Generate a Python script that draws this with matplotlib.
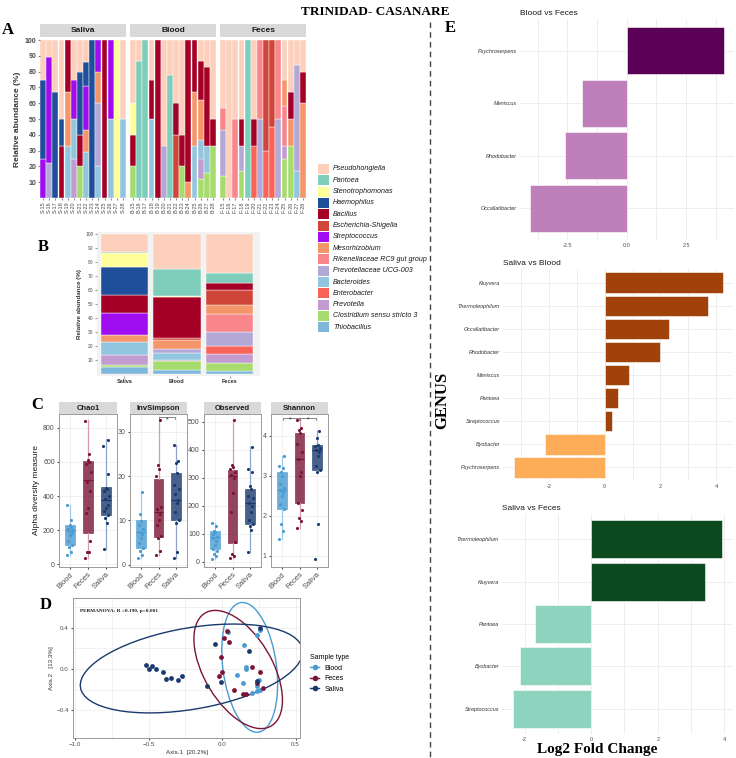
import numpy as np
import matplotlib
matplotlib.use("Agg")
import matplotlib.pyplot as plt
from matplotlib.patches import Ellipse, Rectangle
from matplotlib.lines import Line2D

plt.rcParams['font.family'] = ['Liberation Sans', 'DejaVu Sans']
SERIF = 'Liberation Serif'

W, H = 736, 758

# ---------------- data ----------------
GENERA = ["Pseudohongiella", "Pantoea", "Stenotrophomonas", "Haemophilus", "Bacillus",
          "Escherichia-Shigella", "Streptococcus", "Mesorhizobium", "Rikenellaceae RC9 gut group",
          "Prevotellaceae UCG-003", "Bacteroides", "Enterobacter", "Prevotella",
          "Clostridium sensu stricto 3", "Thiobacillus"]
CODES = ["Pse", "Pan", "Ste", "Hae", "Bac", "Esc", "Str", "Mes", "Rik", "PUC", "Bct", "Ent", "Pre", "Clo", "Thi"]
GENUS_COLORS = ["#FDD0BB", "#7FCDBB", "#FFFF99", "#1F4E9A", "#A50026", "#D0453A", "#A00CF0",
                "#F4956A", "#F8868B", "#B3A9D6", "#92C5DE", "#F8645A", "#C29BD0", "#A6DB6E", "#7FB6DC"]

saliva_ids = ["S-%d" % i for i in range(15, 29)]
blood_ids = ["B-%d" % i for i in range(15, 29)]
feces_ids = ["F-%d" % i for i in range(15, 29)]

saliva_comp = [
    {"Pse": 25, "Hae": 50, "Str": 25},
    {"Pse": 11, "Str": 67, "PUC": 22},
    {"Pse": 33, "Hae": 67},
    {"Pse": 50, "Hae": 17, "Bac": 33},
    {"Bac": 33, "Mes": 34, "Bct": 33},
    {"Pse": 25, "Str": 25, "Pre": 25, "Bct": 25},
    {"Pse": 20, "Hae": 40, "Bac": 20, "Clo": 20},
    {"Pse": 14, "Hae": 15, "Str": 28, "Mes": 14, "Bct": 29},
    {"Hae": 100},
    {"Str": 20, "Mes": 20, "PUC": 40, "Bct": 20},
    {"Bac": 100},
    {"Str": 50, "Bct": 50},
    {"Ste": 100},
    {"Pse": 50, "Bct": 50},
]
blood_comp = [
    {"Pse": 40, "Ste": 20, "Bac": 20, "Clo": 20},
    {"Pse": 13, "Pan": 87},
    {"Pan": 100},
    {"Pse": 25, "Bac": 25, "Bct": 50},
    {"Bac": 100},
    {"Pse": 67, "PUC": 33},
    {"Pse": 22, "Pan": 78},
    {"Pse": 40, "Bac": 20, "Esc": 40},
    {"Pse": 60, "Bac": 20, "Clo": 20},
    {"Bac": 90, "Mes": 10},
    {"Bac": 33, "Mes": 34, "Bct": 33},
    {"Pse": 13, "Bac": 25, "Mes": 25, "Bct": 12, "Pre": 13, "Clo": 12},
    {"Pse": 17, "Bac": 50, "Bct": 17, "Clo": 16},
    {"Pse": 50, "Bac": 17, "Clo": 33},
]
feces_comp = [
    {"Pse": 43, "Rik": 14, "PUC": 29, "Clo": 14},
    {"Pse": 100},
    {"Pse": 50, "Rik": 50},
    {"Pse": 50, "Bac": 17, "PUC": 16, "Clo": 17},
    {"Pan": 100},
    {"Pse": 50, "Bac": 17, "Ent": 33},
    {"Rik": 50, "PUC": 50},
    {"Esc": 70, "Ent": 30},
    {"Esc": 55, "Ent": 45},
    {"Rik": 50, "PUC": 50},
    {"Pse": 25, "Rik": 25, "Mes": 17, "Pre": 8, "Clo": 25},
    {"Pse": 33, "Bac": 17, "Mes": 17, "Clo": 33},
    {"Pse": 16, "PUC": 67, "Bct": 17},
    {"Pse": 20, "Bac": 20, "Mes": 60},
]

# panel B: mean composition per sample type
groups_B = ["Saliva", "Blood", "Feces"]
mean_comp = [
    {"Pse": 13, "Pan": 0.5, "Ste": 10, "Hae": 20, "Bac": 13, "Str": 16, "Mes": 5, "Bct": 9, "Pre": 7, "Clo": 1.5, "Thi": 5},
    {"Pse": 25, "Pan": 19, "Ste": 1, "Bac": 29, "Esc": 2, "Mes": 6, "PUC": 3, "Bct": 5, "Pre": 1, "Clo": 6, "Thi": 3},
    {"Pse": 28, "Pan": 7, "Bac": 5, "Esc": 11, "Mes": 6, "Rik": 13, "PUC": 10, "Ent": 6, "Pre": 6, "Clo": 6, "Thi": 2},
]

# panel C: alpha diversity
types_C = ["Blood", "Feces", "Saliva"]
type_colors = ["#4A9BD1", "#7A1535", "#1A3A6E"]
whisker_colors = ["#9CCAE8", "#D89AAE", "#8FA5C8"]
metrics = ["Chao1", "InvSimpson", "Observed", "Shannon"]
# (q1, median, q3, whisker low, whisker high) per sample type
box_stats = {
    "Chao1": [(113, 200, 229, 53, 350), (181, 492, 603, 35, 846), (292, 378, 455, 90, 735)],
    "InvSimpson": [(3.8, 7.4, 10.0, 1.6, 16.5), (6.3, 12.0, 19.3, 2.2, 32.6), (10.2, 14.7, 20.7, 1.5, 27.0)],
    "Observed": [(46, 89, 112, 10, 140), (69, 307, 328, 14, 507), (136, 210, 260, 37, 412)],
    "Shannon": [(2.18, 2.65, 3.10, 1.42, 3.50), (2.33, 3.42, 4.08, 1.70, 4.40), (3.15, 3.65, 3.78, 3.10, 4.13)],
}
alpha_points = {
    "Chao1": [[55, 75, 100, 115, 140, 170, 185, 195, 200, 210, 220, 230, 260, 345],
              [35, 70, 70, 135, 300, 330, 430, 480, 540, 590, 600, 610, 645, 840],
              [90, 240, 270, 290, 310, 330, 350, 380, 400, 430, 440, 445, 530, 690, 730]],
    "InvSimpson": [[1.6, 2.2, 3.0, 3.8, 5.0, 6.0, 7.0, 7.5, 8.0, 9.0, 9.8, 11.5, 16.5],
                   [2.2, 3.0, 6.0, 6.5, 9.0, 10.0, 11.5, 12.5, 13.0, 20.0, 21.5, 22.5, 32.6],
                   [1.5, 2.8, 9.5, 10.2, 12.0, 14.0, 14.7, 16.0, 17.0, 18.0, 20.7, 23.0, 23.5, 27.0]],
    "Observed": [[10, 20, 30, 40, 46, 60, 75, 85, 90, 100, 108, 112, 130, 140],
                 [14, 20, 30, 70, 180, 245, 300, 310, 320, 330, 340, 345, 507],
                 [37, 115, 130, 136, 150, 180, 200, 210, 230, 235, 260, 270, 320, 330, 412]],
    "Shannon": [[1.42, 1.62, 1.8, 2.18, 2.3, 2.5, 2.6, 2.65, 2.7, 2.8, 3.0, 3.1, 3.2, 3.25, 3.5],
                [1.7, 1.87, 1.95, 2.15, 2.33, 3.0, 3.1, 3.42, 3.6, 3.8, 4.08, 4.15, 4.2, 4.4],
                [0.93, 1.8, 3.1, 3.15, 3.25, 3.5, 3.6, 3.65, 3.7, 3.75, 3.78, 3.95, 4.13]],
}
ylims_C = {"Chao1": (-15, 880), "InvSimpson": (-0.5, 34), "Observed": (-18, 528), "Shannon": (0.72, 4.55)}
yticks_C = {"Chao1": [0, 200, 400, 600, 800], "InvSimpson": [0, 10, 20, 30],
            "Observed": [0, 100, 200, 300, 400, 500], "Shannon": [1, 2, 3, 4]}
signif_C = {"InvSimpson": [(2, 3, 33.3)], "Shannon": [(1, 2, 4.45), (2, 3, 4.45)]}

# panel D: PCoA
pcoa_x = [[0.04, 0.15, 0.24, 0.26, 0.16, 0.16, 0.10, 0.14, 0.20, 0.25, 0.24, 0.24, 0.26],
          [0.03, 0.01, 0.05, -0.01, 0.0, -0.02, 0.08, 0.14, 0.16, 0.20, 0.26, 0.24, 0.28],
          [-0.52, -0.50, -0.48, -0.45, -0.40, -0.38, -0.35, -0.30, -0.27, -0.10, -0.05, -0.01, 0.18, 0.26, 0.24]]
pcoa_y = [[0.36, 0.23, 0.33, 0.38, 0.0, 0.02, -0.06, -0.14, -0.23, -0.11, -0.16, -0.21, -0.20],
          [0.37, 0.30, 0.26, 0.12, -0.03, -0.07, -0.20, -0.24, -0.24, 0.02, -0.03, -0.14, -0.18],
          [0.04, 0.0, 0.03, 0.0, -0.03, -0.10, -0.09, -0.11, -0.07, -0.16, 0.24, -0.13, 0.18, 0.40, -0.12]]
ELL_R = 2.75  # t-based 95% radius

# panel E: log2 fold change
e1_genus = ["Psychroserpens", "Meniscus", "Rhodobacter", "Occallatibacter"]
e1_lfc = [4.10, -1.90, -2.60, -4.08]
e2_genus = ["Kluyvera", "Thermoleophilum", "Occallatibacter", "Rhodobacter", "Meniscus",
            "Pantoea", "Streptococcus", "Byobacter", "Psychroserpens"]
e2_lfc = [4.23, 3.72, 2.31, 1.99, 0.88, 0.49, 0.26, -2.14, -3.26]
e3_genus = ["Thermoleophilum", "Kluyvera", "Pantoea", "Byobacter", "Streptococcus"]
e3_lfc = [3.94, 3.43, -1.70, -2.13, -2.36]

# ---------------- helpers ----------------
fig = plt.figure(figsize=(W / 100, H / 100), dpi=100)


def add_ax(x0, y0, x1, y1):
    return fig.add_axes([x0 / W, 1 - y1 / H, (x1 - x0) / W, (y1 - y0) / H])


def ftext(x, y, s, **kw):
    fig.text(x / W, 1 - y / H, s, **kw)


def clear_spines(ax):
    for s in ax.spines.values():
        s.set_visible(False)


def stack_bars(ax, comps, width):
    for i, d in enumerate(comps):
        bottom = 0
        for code, col in reversed(list(zip(CODES, GENUS_COLORS))):
            v = d.get(code, 0)
            if v:
                ax.bar(i, v, bottom=bottom, width=width, color=col, edgecolor='white', linewidth=0.3)
                bottom += v


def strip(x0, y0, x1, y1, label, size):
    sax = add_ax(x0, y0, x1, y1)
    sax.set_facecolor('#D9D9D9')
    sax.set_xticks([])
    sax.set_yticks([])
    clear_spines(sax)
    sax.text(0.5, 0.5, label, ha='center', va='center', fontsize=size, fontweight='bold', color='#1A1A1A')


# ---------------- panel A ----------------
facets_A = [("Saliva", saliva_ids, saliva_comp, 40, 126),
            ("Blood", blood_ids, blood_comp, 130, 216),
            ("Feces", feces_ids, feces_comp, 220, 306)]
for k, (name, ids, comp, x0, x1) in enumerate(facets_A):
    ax = add_ax(x0, 40, x1, 198)
    stack_bars(ax, comp, 0.94)
    ax.set_xlim(-0.5, len(ids) - 0.5)
    ax.set_ylim(0, 100)
    ax.set_xticks(range(len(ids)))
    ax.set_xticklabels(ids, rotation=90, fontsize=4, color='#4D4D4D')
    ax.tick_params(axis='x', length=1.5, pad=1, color='#888888')
    if k == 0:
        ax.set_yticks(range(10, 101, 10))
        ax.set_yticklabels([str(v) for v in range(10, 101, 10)], fontsize=5, fontweight='bold', color='#4D4D4D')
        ax.tick_params(axis='y', length=1.5, pad=1, color='#888888')
        ax.set_ylabel("Relative abundance (%)", fontsize=6, fontweight='bold', color='#333333', labelpad=3)
    else:
        ax.set_yticks([])
    clear_spines(ax)
    strip(x0, 24, x1, 37, name, 6)

# ---------------- panel B ----------------
axb = add_ax(97, 232, 260, 376)
axb.set_facecolor('#F2F2F2')
stack_bars(axb, mean_comp, 0.9)
axb.set_xlim(-0.52, 2.58)
axb.set_ylim(-1.5, 101.5)
axb.set_xticks(range(3))
axb.set_xticklabels(groups_B, fontsize=4, fontweight='bold', color='#333333')
axb.set_yticks(range(10, 101, 10))
axb.set_yticklabels([str(v) for v in range(10, 101, 10)], fontsize=3.5, color='#4D4D4D')
axb.tick_params(length=1.5, pad=1, color='#999999')
axb.set_ylabel("Relative abundance (%)", fontsize=4.5, fontweight='bold', color='#333333', labelpad=2)
clear_spines(axb)

# ---------------- panel C ----------------
rects_C = [(59, 117), (130, 187), (204, 261), (271, 328)]
jit = [-0.14, 0.06, -0.04, 0.13, -0.10, 0.02, 0.10, -0.07, 0.15, -0.12, 0.04, -0.02, 0.08, -0.15, 0.11]
for m, (x0, x1) in zip(metrics, rects_C):
    ax = add_ax(x0, 414, x1, 567)
    stats = []
    for (q1, med, q3, lo, hi) in box_stats[m]:
        stats.append({'q1': q1, 'med': med, 'q3': q3, 'whislo': lo, 'whishi': hi, 'fliers': []})
    for i in range(3):
        ax.bxp([stats[i]], positions=[i + 1], widths=0.55, patch_artist=True, showcaps=False,
               boxprops=dict(facecolor=type_colors[i], edgecolor=type_colors[i], alpha=0.8, linewidth=0.5),
               whiskerprops=dict(color=whisker_colors[i], linewidth=0.9),
               medianprops=dict(color=type_colors[i], linewidth=0.8), zorder=2)
        vals = alpha_points[m][i]
        ax.scatter([i + 1 + jit[j % len(jit)] for j in range(len(vals))], vals, s=5,
                   color=type_colors[i], zorder=3, linewidths=0)
    for (a, b, yv) in signif_C.get(m, []):
        lo, hi = ylims_C[m]
        d = (hi - lo) * 0.015
        ax.plot([a + 0.05, a + 0.05, b - 0.05, b - 0.05], [yv - d, yv, yv, yv - d], color='#555555', lw=0.5)
        ax.text((a + b) / 2, yv - d, "*", ha='center', va='center', fontsize=5, color='#333333')
    ax.set_xlim(0.4, 3.6)
    ax.set_ylim(*ylims_C[m])
    ax.set_yticks(yticks_C[m])
    ax.set_xticks([1, 2, 3])
    ax.set_xticklabels(types_C, rotation=45, ha='right', rotation_mode='anchor', fontsize=5.5, color='#4D4D4D')
    ax.tick_params(labelsize=5, colors='#4D4D4D', length=1.5, pad=1.5)
    ax.tick_params(axis='x', labelsize=5.5)
    ax.grid(True, color='#EBEBEB', lw=0.5, zorder=0)
    ax.set_axisbelow(True)
    for s in ax.spines.values():
        s.set_color('#9A9A9A')
        s.set_linewidth(0.7)
    strip(x0, 402, x1, 414, m, 5.5)
ftext(36, 490, "Alpha diversity measure", rotation=90, ha='center', va='center', fontsize=6, color='#1A1A1A')

# ---------------- panel D ----------------
axd = add_ax(73, 598, 300, 738)
for i in range(3):
    xs = np.array(pcoa_x[i])
    ys = np.array(pcoa_y[i])
    cov = np.cov(xs, ys)
    vals, vecs = np.linalg.eigh(cov)
    ang = np.degrees(np.arctan2(vecs[1, 1], vecs[0, 1]))
    axd.add_patch(Ellipse((xs.mean(), ys.mean()), 2 * ELL_R * np.sqrt(vals[1]), 2 * ELL_R * np.sqrt(vals[0]),
                          angle=ang, fill=False, edgecolor=type_colors[i], lw=1.0, zorder=2))
    axd.scatter(xs, ys, s=12, color=type_colors[i], zorder=3, linewidths=0)
axd.set_xlim(-1.015, 0.53)
axd.set_ylim(-0.67, 0.69)
axd.set_xticks([-1.0, -0.5, 0.0, 0.5])
axd.set_yticks([-0.4, 0.0, 0.4])
axd.set_xticks([-0.75, -0.25, 0.25], minor=True)
axd.set_yticks([-0.2, 0.2, 0.6], minor=True)
axd.tick_params(which='both', labelsize=4.5, colors='#4D4D4D', length=1.5, pad=1.5)
axd.tick_params(which='minor', length=0)
axd.grid(True, which='both', color='#EBEBEB', lw=0.5, zorder=0)
axd.set_axisbelow(True)
for s in axd.spines.values():
    s.set_color('#9A9A9A')
    s.set_linewidth(0.7)
axd.set_xlabel("Axis.1  [20.2%]", fontsize=4.5, color='#333333', labelpad=2)
axd.set_ylabel("Axis.2   [13.3%]", fontsize=4.5, color='#333333', labelpad=2)
axd.text(0.03, 0.9, "PERMANOVA: R =0.190, p=0.001", transform=axd.transAxes, fontsize=3.8,
         fontweight='bold', family=SERIF, color='#1A1A1A')
handles = [Line2D([0], [0], color=c, marker='o', markersize=3, lw=1) for c in type_colors]
fig.legend(handles, types_C, title="Sample type", loc='upper left', bbox_to_anchor=(304 / W, 1 - 648 / H),
           frameon=False, fontsize=5, title_fontsize=5, handlelength=1.3, labelspacing=0.5,
           alignment='left')


# ---------------- panel E ----------------
def lfc_panel(rect, genus, lfc, pos_col, neg_col, xlim, major, minor, labels, title):
    ax = add_ax(*rect)
    y = np.arange(len(genus))
    cols = [pos_col if v > 0 else neg_col for v in lfc]
    ax.barh(y, lfc, height=0.9, color=cols, edgecolor='white', linewidth=0.4, zorder=2)
    ax.set_ylim(len(genus) - 0.4, -0.6)
    ax.set_xlim(*xlim)
    ax.set_yticks(y)
    ax.set_yticklabels(genus, fontsize=4, style='italic', color='#333333')
    ax.set_xticks(major)
    ax.set_xticklabels(labels, fontsize=4, color='#4D4D4D')
    ax.set_xticks(minor, minor=True)
    ax.tick_params(which='both', length=0, pad=2)
    ax.grid(True, which='both', axis='x', color='#EBEBEB', lw=0.6, zorder=0)
    ax.grid(True, which='major', axis='y', color='#EBEBEB', lw=0.6, zorder=0)
    ax.set_axisbelow(True)
    clear_spines(ax)
    ax.set_title(title, loc='left', fontsize=6, color='#1A1A1A', pad=3)
    return ax


lfc_panel((520, 19, 734, 240), e1_genus, e1_lfc, "#5B0057", "#BF7FBB", (-4.49, 4.51),
          [-2.5, 0, 2.5], [-3.75, -1.25, 1.25, 3.75], ["-2.5", "0.0", "2.5"], "Blood vs Feces")
lfc_panel((503, 269, 733, 481), e2_genus, e2_lfc, "#A0420A", "#FDAD57", (-3.64, 4.60),
          [-2, 0, 2, 4], [-3, -1, 1, 3], ["-2", "0", "2", "4"], "Saliva vs Blood")
lfc_panel((502, 514, 733, 734), e3_genus, e3_lfc, "#0B4A1E", "#8ED3BE", (-2.68, 4.26),
          [-2, 0, 2, 4], [-1, 1, 3], ["-2", "0", "2", "4"], "Saliva vs Feces")

# ---------------- overlay: legend, labels, divider ----------------
ov = fig.add_axes([0, 0, 1, 1], facecolor='none')
ov.set_xlim(0, W)
ov.set_ylim(H, 0)
ov.axis('off')
for i, (g, c) in enumerate(zip(GENERA, GENUS_COLORS)):
    yc = 169 + i * 11.3
    ov.add_patch(Rectangle((318, yc - 5), 11, 10, facecolor=c, edgecolor='none'))
    ov.text(333, yc, g, fontsize=5.1, style='italic', va='center', ha='left', color='#1A1A1A')
ov.plot([430, 430], [22, 758], color='#444444', lw=1, ls=(0, (4, 3)))

ftext(375, 12, "TRINIDAD- CASANARE", ha='center', va='center', fontsize=9.5, fontweight='bold', family=SERIF)
for lab, x, y in [("A", 8, 30), ("B", 43, 247), ("C", 37, 405), ("D", 46, 605), ("E", 450, 28)]:
    ftext(x, y, lab, ha='center', va='center', fontsize=12, fontweight='bold', family=SERIF)
ftext(442, 400, "GENUS", rotation=90, ha='center', va='center', fontsize=12, fontweight='bold', family=SERIF)
ftext(597, 749, "Log2 Fold Change", ha='center', va='center', fontsize=11, fontweight='bold', family=SERIF)

fig.savefig("out.png", dpi=100)
